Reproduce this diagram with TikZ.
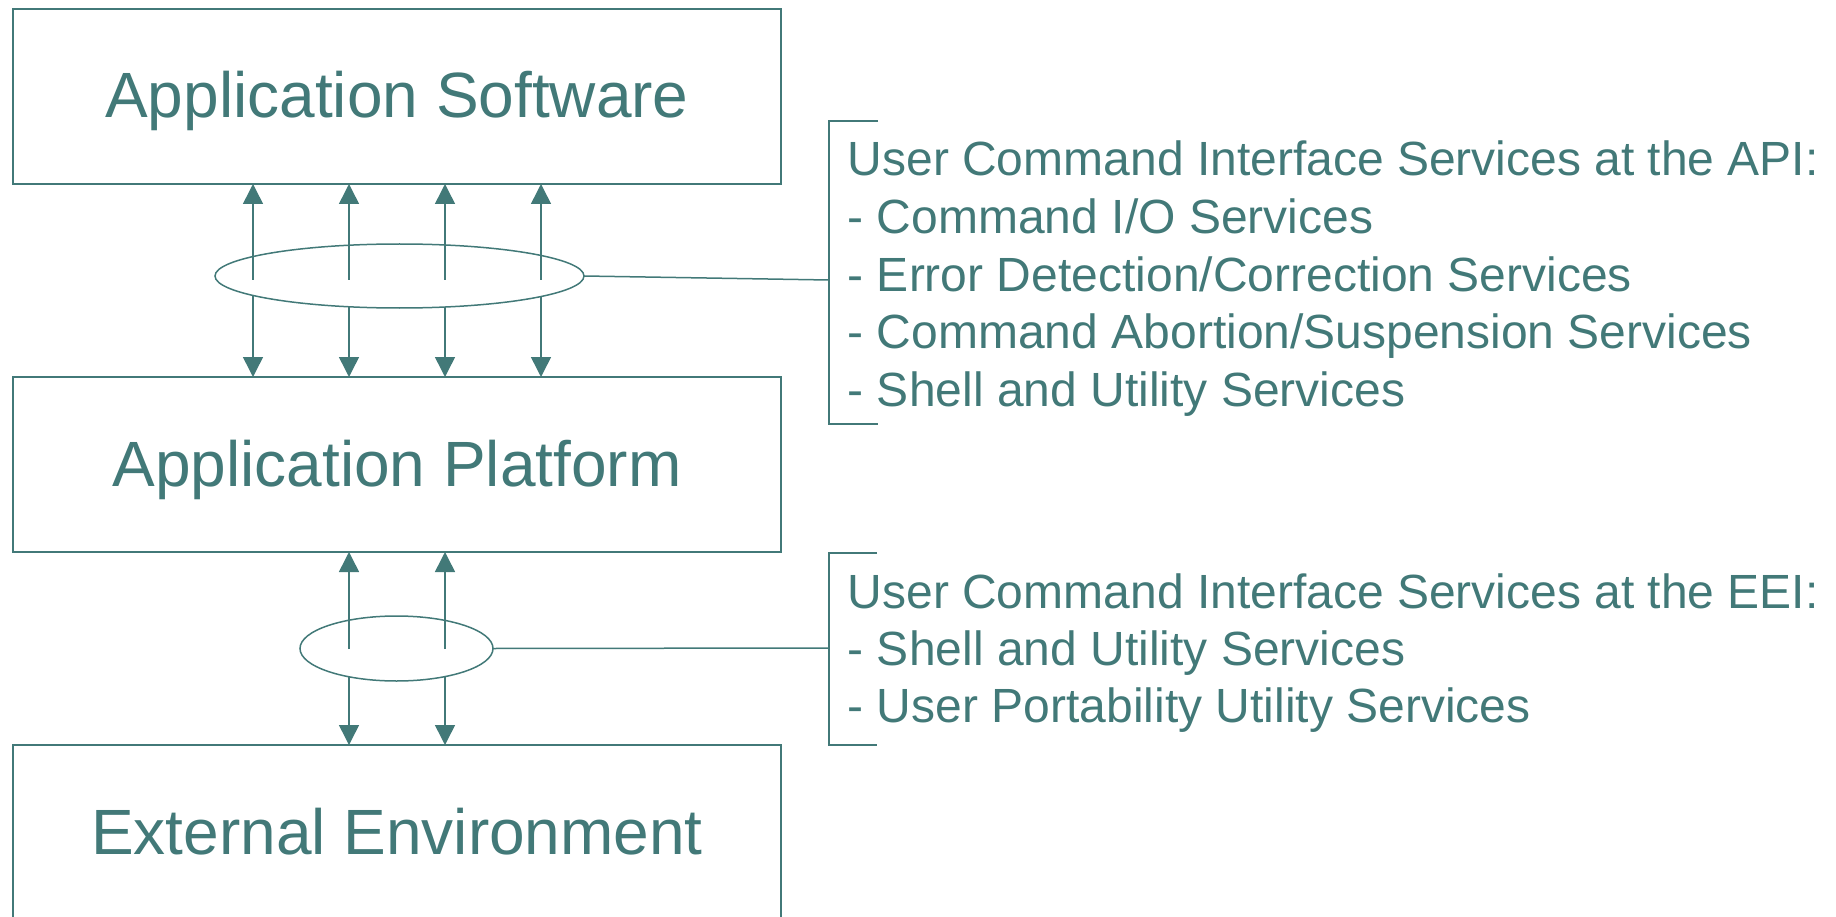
\documentclass[tikz,border=0pt]{standalone}
\usepackage{fontspec}
\setmainfont{Liberation Sans}
\usetikzlibrary{arrows.meta,shapes.geometric}
\definecolor{teal}{RGB}{66,121,120}

\tikzset{
  layerbox/.style={draw=teal, line width=1.8pt, rectangle, inner sep=0pt, outer sep=0pt,
    minimum width=768pt, minimum height=175pt, text=teal,
    font=\fontsize{64}{76}\selectfont, text height=43pt, text depth=0pt},
  bundle/.style={draw=teal, line width=1.5pt, ellipse, inner sep=0pt, outer sep=0pt},
  flow/.style={draw=teal, line width=1.5pt, -{Triangle[length=20pt,width=20pt]}},
  lead/.style={draw=teal, line width=1.5pt},
  bracket/.style={draw=teal, line width=1.8pt},
  svc/.style={anchor=base west, inner sep=0pt, text=teal, font=\fontsize{48}{57}\selectfont}
}

\begin{document}
\begin{tikzpicture}[x=1pt, y=1pt]
  \useasboundingbox (0,0) rectangle (1836,-917);
  \clip (0,0) rectangle (1836,-917);

  % Layers
  \node[layerbox] (app)  at (397,-96.5)  {Application Software};
  \node[layerbox] (plat) at (397,-464.5) {Application Platform};
  \node[layerbox] (ext)  at (397,-832.5) {External Environment};

  % Interface bundles
  \node[bundle, minimum width=369pt, minimum height=64pt] (api) at (399.5,-276) {};
  \node[bundle, minimum width=193pt, minimum height=65pt] (eei) at (396.5,-648.5) {};

  % API arrows: upward ones start at the bundle's centre line,
  % downward ones leave from its lower rim
  \coordinate (u1) at (253,-280);
  \coordinate (u2) at (349,-280);
  \coordinate (u3) at (445,-280);
  \coordinate (u4) at (541,-280);
  \coordinate (d1) at (253,-295.5);
  \coordinate (d2) at (349,-306.8);
  \coordinate (d3) at (445,-307);
  \coordinate (d4) at (541,-296.5);
  \foreach \i in {1,...,4} {
    \draw[flow] (u\i) -- (app.south -| u\i);
    \draw[flow] (d\i) -- (plat.north -| d\i);
  }

  % EEI arrows
  \coordinate (v1) at (349,-649);
  \coordinate (v2) at (445,-649);
  \coordinate (w1) at (349,-676.8);
  \coordinate (w2) at (445,-676.6);
  \foreach \i in {1,2} {
    \draw[flow] (v\i) -- (plat.south -| v\i);
    \draw[flow] (w\i) -- (ext.north -| w\i);
  }

  % Brackets grouping the service lists
  \coordinate (b1top) at (878,-120.7);
  \coordinate (b1bot) at (878,-424);
  \coordinate (b1mid) at (829,-280);
  \draw[bracket] (b1top) -| (b1bot -| b1mid) -- (b1bot);
  \coordinate (b2top) at (877,-552.7);
  \coordinate (b2bot) at (877,-744.7);
  \coordinate (b2mid) at (829,-648);
  \draw[bracket] (b2top) -| (b2bot -| b2mid) -- (b2bot);

  % Leaders from bundles to brackets
  \draw[lead] (api.east) -- (b1mid);
  \draw[lead] (eei.east) -- (b2mid);

  % Service lists
  \node[svc] (s1) at (847.5,-176)   {User Command Interface Services at the API:};
  \node[svc] (s2) at (847.5,-233.5) {- Command I/O Services};
  \node[svc] (s3) at (847.5,-291)   {- Error Detection/Correction Services};
  \node[svc] (s4) at (847.5,-348.5) {- Command Abortion/Suspension Services};
  \node[svc] (s5) at (847.5,-406)   {- Shell and Utility Services};

  \node[svc] (t1) at (847.5,-608)   {User Command Interface Services at the EEI:};
  \node[svc] (t2) at (847.5,-665)   {- Shell and Utility Services};
  \node[svc] (t3) at (847.5,-722)   {- User Portability Utility Services};
\end{tikzpicture}
\end{document}
